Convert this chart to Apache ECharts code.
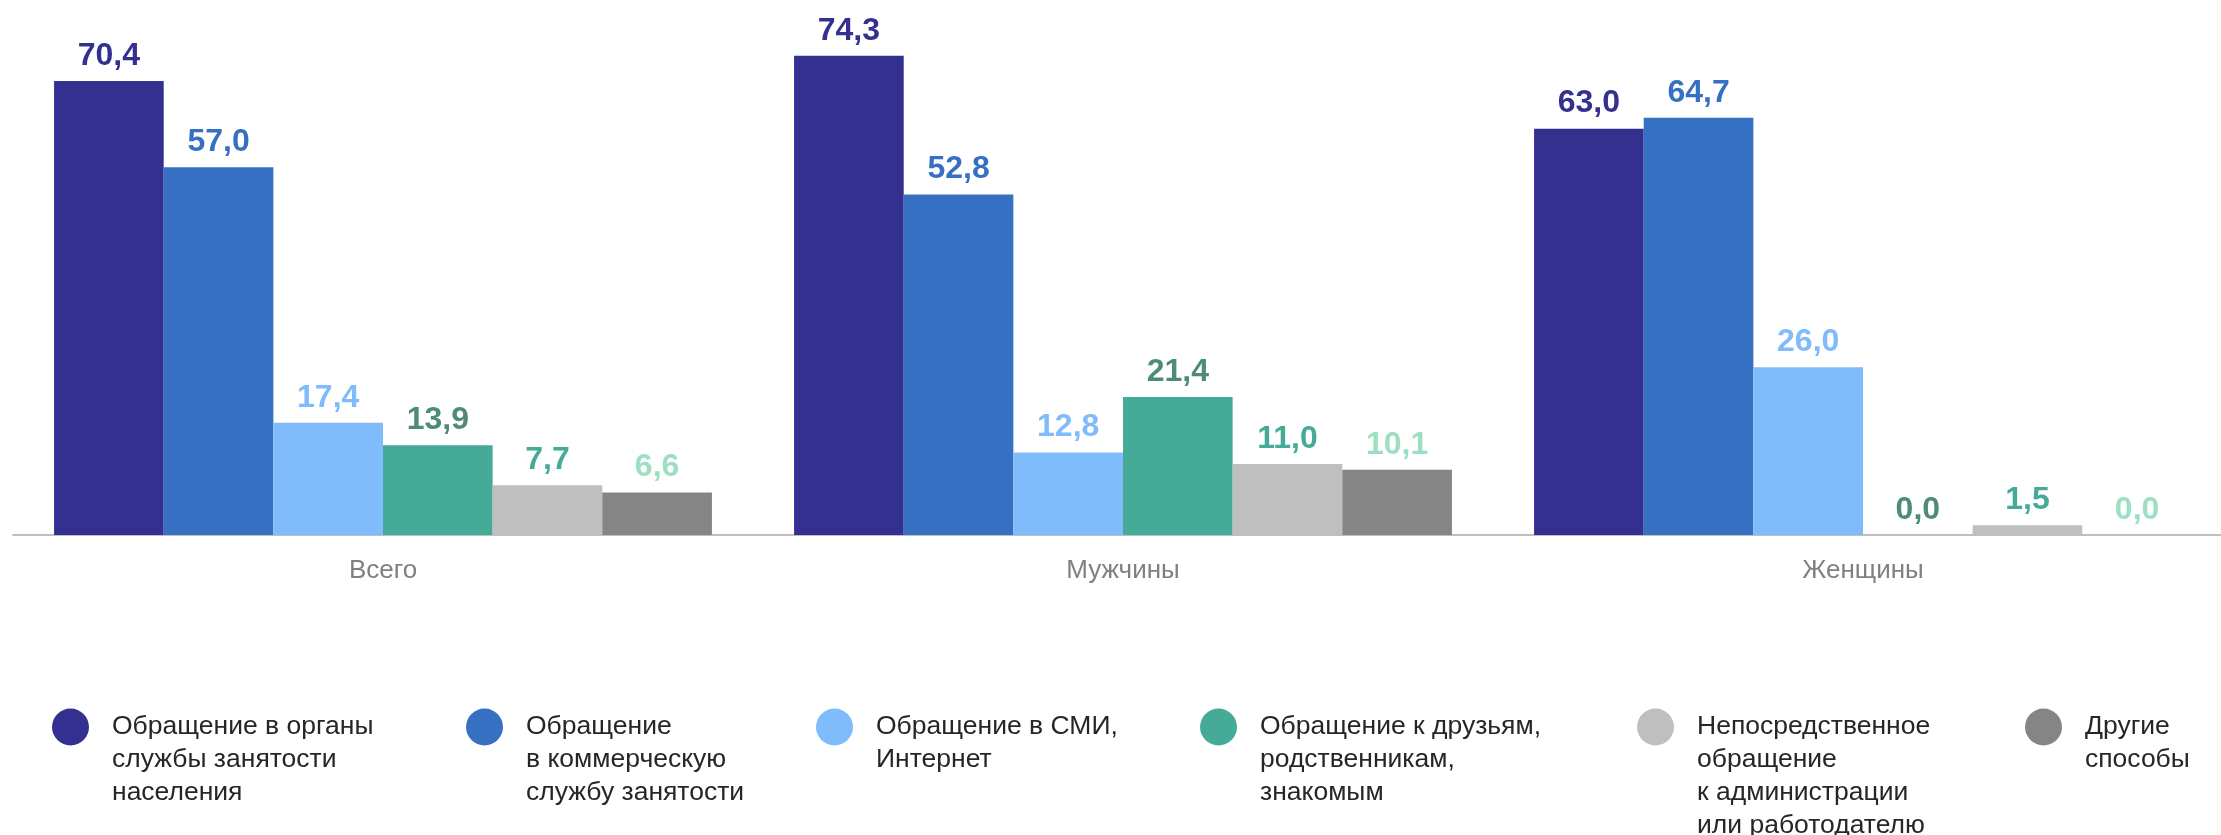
<!DOCTYPE html>
<html>
<head>
<meta charset="utf-8">
<script src="https://cdn.jsdelivr.net/npm/echarts@6/dist/echarts.min.js"></script>
<style>
    html, body { margin: 0; padding: 0; background: #fff; }
    #chart { width: 2221px; height: 835px; }
</style>
</head>
<body>
<div id="chart"></div>
<script>
const categories = ["Всего", "Мужчины", "Женщины"];

const seriesNames = [
    "Обращение в органы службы занятости населения",
    "Обращение в коммерческую службу занятости",
    "Обращение в СМИ, Интернет",
    "Обращение к друзьям, родственникам, знакомым",
    "Непосредственное обращение к администрации или работодателю",
    "Другие способы"
];
const legendLabels = [
    "Обращение в органы\nслужбы занятости\nнаселения",
    "Обращение\nв коммерческую\nслужбу занятости",
    "Обращение в СМИ,\nИнтернет",
    "Обращение к друзьям,\nродственникам,\nзнакомым",
    "Непосредственное\nобращение\nк администрации\nили работодателю",
    "Другие\nспособы"
];

const employmentService = [70.4, 74.3, 63.0];
const commercialService = [57.0, 52.8, 64.7];
const massMedia = [17.4, 12.8, 26.0];
const friendsRelatives = [13.9, 21.4, 0.0];
const directEmployer = [7.7, 11.0, 1.5];
const otherWays = [6.6, 10.1, 0.0];

const seriesValues = [employmentService, commercialService, massMedia, friendsRelatives, directEmployer, otherWays];

const barColors = ["#34308f", "#3570c2", "#80bbfb", "#46aa98", "#bfbfbf", "#858585"];
const labelColors = ["#34308f", "#3570c2", "#80bbfb", "#4f8c77", "#46aa98", "#9ddfc1"];
const legendLeft = [52, 466, 816, 1200, 1637, 2025];

const fontFamily = "'Liberation Sans', Arial, sans-serif";
const lineH = 33;
const iconCenterY = 727;

let option = {
    animation: false,
    backgroundColor: "#fff",
    grid: { left: 13, top: 19, width: 2220, height: 516, outerBoundsMode: "none", containLabel: false },
    legend: seriesNames.map((name, i) => {
        let lines = legendLabels[i].split("\n").length;
        // blank lines in front keep the first text line level with the icon
        let text = "\n".repeat(lines - 1) + legendLabels[i];
        return {
            data: [{ name: name, icon: "circle" }],
            left: legendLeft[i],
            top: iconCenterY - (2 * lines - 1) * lineH / 2,
            selectedMode: false,
            itemWidth: 37,
            itemHeight: 37,
            padding: 0,
            formatter: () => text,
            textStyle: {
                fontFamily: fontFamily,
                fontSize: 26.5,
                lineHeight: lineH,
                color: "#262626",
                padding: [0, 0, 0, 18],
            },
        };
    }),
    xAxis: {
        type: "category",
        data: categories,
        axisTick: { show: false },
        axisLine: { lineStyle: { color: "#bfbfbf", width: 2 } },
        axisLabel: { color: "#808080", fontSize: 26, fontFamily: fontFamily, margin: 23 },
    },
    yAxis: {
        type: "value",
        min: 0,
        max: 80,
        show: false,
        splitLine: { show: false },
    },
    series: seriesNames.map((name, i) => ({
        name: name,
        type: "bar",
        data: seriesValues[i],
        barGap: "0%",
        barCategoryGap: "11.1%",
        itemStyle: { color: barColors[i] },
        label: {
            show: true,
            position: "top",
            distance: 9,
            color: labelColors[i],
            fontFamily: fontFamily,
            fontSize: 32,
            fontWeight: "bold",
            formatter: (p) => p.value.toFixed(1).replace(".", ","),
        },
    })),
};

let mychart = echarts.init(document.getElementById("chart"));
mychart.setOption(option);
</script>
</body>
</html>
